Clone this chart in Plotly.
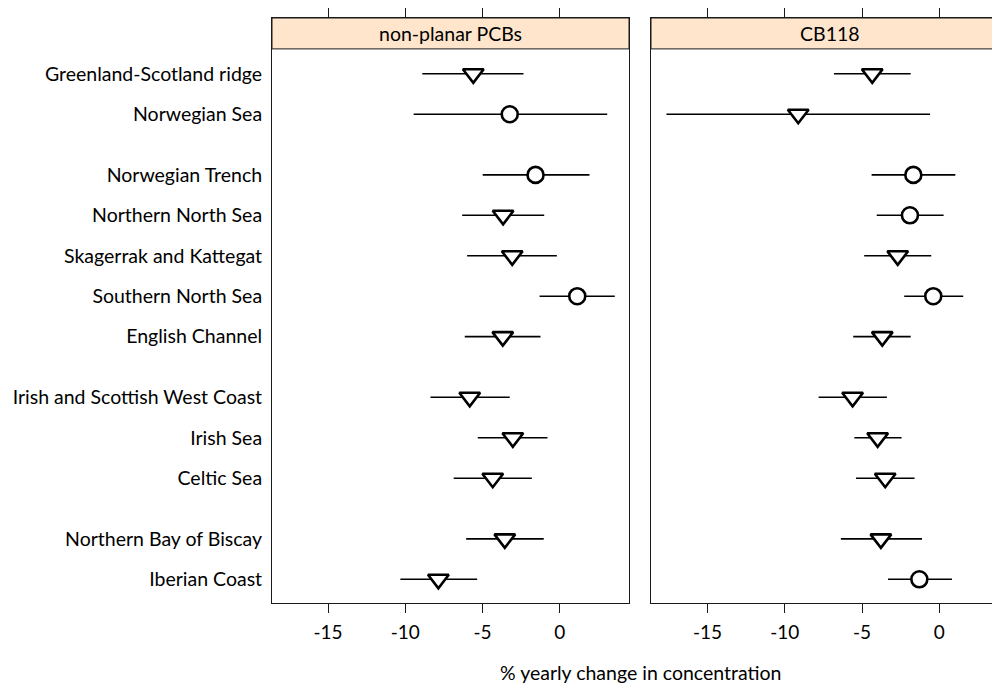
import plotly.graph_objects as go

# ---------------- data ----------------
region_groups = [
    ["Greenland-Scotland ridge", "Norwegian Sea"],
    ["Norwegian Trench", "Northern North Sea", "Skagerrak and Kattegat",
     "Southern North Sea", "English Channel"],
    ["Irish and Scottish West Coast", "Irish Sea", "Celtic Sea"],
    ["Northern Bay of Biscay", "Iberian Coast"],
]
panels = ["non-planar PCBs", "CB118"]

# non-planar PCBs
npcb_est = [-5.6, -3.24, -1.57, -3.67, -3.08, 1.13, -3.69, -5.83, -3.04, -4.34, -3.56, -7.86]
npcb_lo = [-8.9, -9.46, -4.99, -6.32, -6.0, -1.31, -6.15, -8.37, -5.31, -6.87, -6.06, -10.32]
npcb_hi = [-2.35, 3.07, 1.92, -1.01, -0.19, 3.56, -1.25, -3.24, -0.80, -1.81, -1.04, -5.35]
npcb_kind = ["down", "o", "o", "down", "down", "o", "down", "down", "down", "down", "down", "down"]

# CB118
cb118_est = [-4.34, -9.13, -1.68, -1.90, -2.69, -0.39, -3.69, -5.61, -3.99, -3.50, -3.78, -1.29]
cb118_lo = [-6.82, -17.66, -4.38, -4.05, -4.86, -2.27, -5.57, -7.81, -5.50, -5.39, -6.37, -3.32]
cb118_hi = [-1.85, -0.60, 1.04, 0.28, -0.52, 1.55, -1.85, -3.39, -2.44, -1.60, -1.12, 0.82]
cb118_kind = ["down", "down", "o", "o", "down", "o", "down", "down", "down", "down", "down", "o"]

x_ticks = [-15, -10, -5, 0]
x_title = "% yearly change in concentration"

# ---------------- layout helpers ----------------
regions, ypos = [], []
pos = 0.0
for gi, grp in enumerate(region_groups):
    if gi > 0:
        pos += 0.5
    for name in grp:
        regions.append(name)
        ypos.append(pos)
        pos += 1.0

FONT = "Lato, 'Open Sans', sans-serif"
OFF = 8  # page body margin offset
W, H = 1000 - OFF, 684 - OFF
ML, MR, MT, MB = 272 - OFF, 0, 16 - OFF, 684 - 603
PW = W - ML - MR
PH = H - MT - MB


def px_to_paper_x(p):  # p in page pixels
    return (p - OFF - ML) / PW


def px_to_paper_y(p):
    return (684 - MB - p) / PH


dom1 = [0, px_to_paper_x(629)]
dom2 = [px_to_paper_x(651), 1]
xr1 = [-18.63, 4.48]
xr2 = [-18.66, 3.93]
yr = [13.086, -1.379]
strip_bottom = px_to_paper_y(47)

fig = go.Figure()

series = [
    (npcb_est, npcb_lo, npcb_hi, npcb_kind, "x", "y"),
    (cb118_est, cb118_lo, cb118_hi, cb118_kind, "x2", "y2"),
]
sym_map = {"down": "triangle-down", "o": "circle"}
size_map = {"down": 18, "o": 16}

for est, lo, hi, kind, xa, ya in series:
    # interval lines
    lx, ly = [], []
    for l, h, yv in zip(lo, hi, ypos):
        lx += [l, h, None]
        ly += [yv, yv, None]
    fig.add_trace(go.Scatter(
        x=lx, y=ly, mode="lines", xaxis=xa, yaxis=ya,
        line=dict(color="black", width=1.6),
        showlegend=False, hoverinfo="skip", cliponaxis=False,
    ))
    for k in ("o", "down"):
        xs = [e for e, kk in zip(est, kind) if kk == k]
        ys = [yv for yv, kk in zip(ypos, kind) if kk == k]
        fig.add_trace(go.Scatter(
            x=xs, y=ys, mode="markers", xaxis=xa, yaxis=ya,
            marker=dict(symbol=sym_map[k], size=size_map[k], color="#FFFFFF",
                        opacity=1, line=dict(color="#000000", width=2.6)),
            showlegend=False, hoverinfo="skip", cliponaxis=False,
        ))

axis_common = dict(
    showgrid=False, zeroline=False, showline=True, linecolor="#1a1a1a", linewidth=1,
    ticks="outside", ticklen=9, tickcolor="#1a1a1a", tickwidth=1,
    tickvals=x_ticks, ticktext=[str(v) for v in x_ticks],
    tickfont=dict(family=FONT, size=19, color="black"), mirror="ticks",
    ticklabelstandoff=3,
)

fig.update_layout(
    width=W, height=H,
    margin=dict(l=ML, r=MR, t=MT, b=MB, pad=0),
    paper_bgcolor="white", plot_bgcolor="white",
    xaxis=dict(domain=dom1, range=xr1, anchor="y", **axis_common),
    xaxis2=dict(domain=dom2, range=xr2, anchor="y2", **axis_common),
    yaxis=dict(domain=[0, 1], range=yr, anchor="x", showgrid=False, zeroline=False,
               showline=True, mirror=True, linecolor="#1a1a1a", linewidth=1,
               ticks="", tickvals=ypos, ticktext=regions,
               tickfont=dict(family=FONT, size=19.5, color="black"),
               ticklabelstandoff=5),
    yaxis2=dict(domain=[0, 1], range=yr, anchor="x2", showgrid=False, zeroline=False,
                showline=True, mirror=False, linecolor="#1a1a1a", linewidth=1,
                ticks="", showticklabels=False),
)

# strips
for xref, x1 in (("x domain", 1), ("x2 domain", 1.05)):
    fig.add_shape(type="rect", xref=xref, yref="paper", x0=0, x1=x1,
                  y0=strip_bottom, y1=1, fillcolor="#FFE5CC",
                  line=dict(color="#1a1a1a", width=1), layer="below")

strip_centers = [px_to_paper_x(450.5), px_to_paper_x(829.5)]
for name, cx in zip(panels, strip_centers):
    fig.add_annotation(x=cx, y=(strip_bottom + 1) / 2, xref="paper", yref="paper",
                       text=name, showarrow=False, xanchor="center", yanchor="middle",
                       font=dict(family=FONT, size=19.5, color="black"))

fig.add_annotation(x=px_to_paper_x(640), y=px_to_paper_y(672.5), xref="paper", yref="paper",
                   text=x_title, showarrow=False, xanchor="center", yanchor="middle",
                   font=dict(family=FONT, size=19.5, color="black"))

fig.write_html("out.html")
